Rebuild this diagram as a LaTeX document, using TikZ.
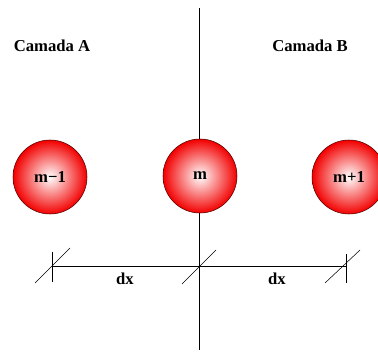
\documentclass[tikz,border=0pt]{standalone}
\usepackage{fontspec}
\setmainfont{Liberation Serif}
\tikzset{
  ball/.style={draw=red!30!black,circle,minimum size=55.5pt,inner sep=0pt,
    shading=radial,inner color=white,outer color=red!95!black,
    font=\bfseries\fontsize{12.5}{14}\selectfont},
  lbl/.style={font=\bfseries\fontsize{12.5}{14}\selectfont},
}
\begin{document}
\begin{tikzpicture}[x=0.75pt,y=-0.75pt]
\useasboundingbox (0,0) rectangle (378,352);
\coordinate (top) at (199,8);
\coordinate (bot) at (199,350);
\coordinate (d1) at (52,266);
\coordinate (d2) at (199,266);
\coordinate (d3) at (346,266);
\draw (top) -- (bot);
\node[ball] (m0) at (50,177) {m−1};
\node[ball] (m1) at (200,176) {m};
\node[ball] (m2) at (349,177) {m+1};
\node[lbl] (la) at (52,46) {Camada A};
\node[lbl] (lb) at (310,46) {Camada B};
% cotas
\draw (d1) -- (d3);
\draw (d1) ++(0,-14) -- ++(0,30);
\draw (d3) ++(0,-12) -- ++(0,29);
\draw (d1) ++(-17,17) -- ++(35,-35);
\draw (d2) ++(-17,18) -- ++(34,-34);
\draw (d3) ++(-21,17) -- ++(35,-33);
\node[lbl] (dx1) at (125,279) {dx};
\node[lbl] (dx2) at (277,279) {dx};
\end{tikzpicture}
\end{document}
